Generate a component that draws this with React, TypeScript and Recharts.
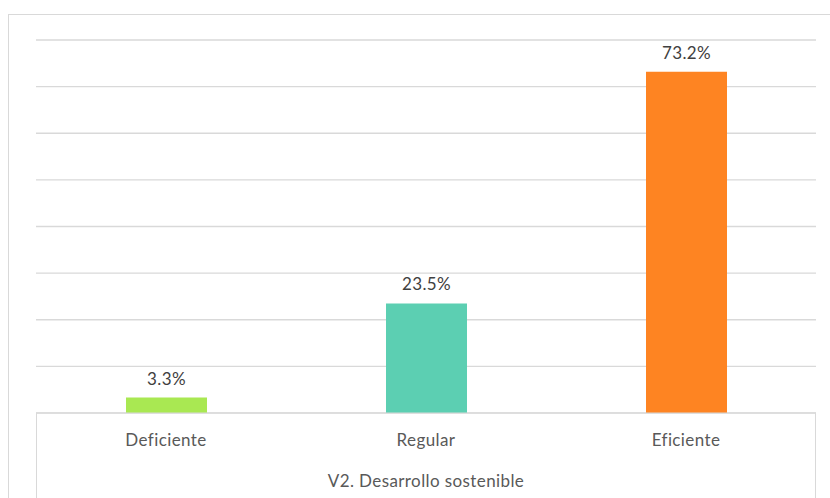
import React from 'react';
import { BarChart, Bar, XAxis, YAxis, CartesianGrid, LabelList, Cell } from 'recharts';

const categories = ['Deficiente', 'Regular', 'Eficiente'];
const percentages = [3.3, 23.5, 73.2];
const yTicks = [0, 10, 20, 30, 40, 50, 60, 70, 80];
const groupTitle = 'V2. Desarrollo sostenible';

const barColors = ['#a9e852', '#5ccfb2', '#fe8422'];
const font = 'Lato, "Open Sans", sans-serif';

const chartData = categories.map((name, i) => ({ name, value: percentages[i] }));

export default function App() {
  return (
    <div style={{ position: 'absolute', left: 0, top: 0, width: 830, height: 498, overflow: 'hidden', background: '#fff' }}>
      {/* outer chart frame (only left and top edges are visible) */}
      <div style={{ position: 'absolute', left: 8, top: 14, width: 900, height: 600, border: '1px solid #d9d9d9' }} />
      {/* multi-level category box sides */}
      <div style={{ position: 'absolute', left: 36, top: 413, width: 1, height: 85, background: '#d9d9d9' }} />
      <div style={{ position: 'absolute', left: 815, top: 413, width: 1, height: 85, background: '#d9d9d9' }} />
      <div style={{ position: 'absolute', left: 0, top: 0 }}>
        <BarChart width={830} height={498} data={chartData} margin={{ top: 40, right: 14, left: 36, bottom: 0 }}>
          <CartesianGrid vertical={false} stroke="#d9d9d9" strokeWidth={1.3} />
          <YAxis hide domain={[0, 80]} ticks={yTicks} width={0} />
          <XAxis
            dataKey="name"
            height={85}
            axisLine={{ stroke: '#d9d9d9' }}
            tickLine={false}
            tickMargin={15}
            tick={{ fill: '#595959', fontSize: 17, fontFamily: font, letterSpacing: 0.4 }}
            label={{ value: groupTitle, position: 'insideBottom', offset: 11, fill: '#595959', fontSize: 17, fontFamily: font, letterSpacing: 0.4 }}
          />
          <Bar dataKey="value" barSize={81} isAnimationActive={false}>
            {chartData.map((d, i) => (
              <Cell key={d.name} fill={barColors[i]} />
            ))}
            <LabelList
              dataKey="value"
              position="top"
              offset={13}
              formatter={(v: any) => `${Number(v).toFixed(1)}%`}
              style={{ fill: '#404040', fontSize: 17, fontFamily: font, letterSpacing: 0.4 }}
            />
          </Bar>
        </BarChart>
      </div>
    </div>
  );
}
